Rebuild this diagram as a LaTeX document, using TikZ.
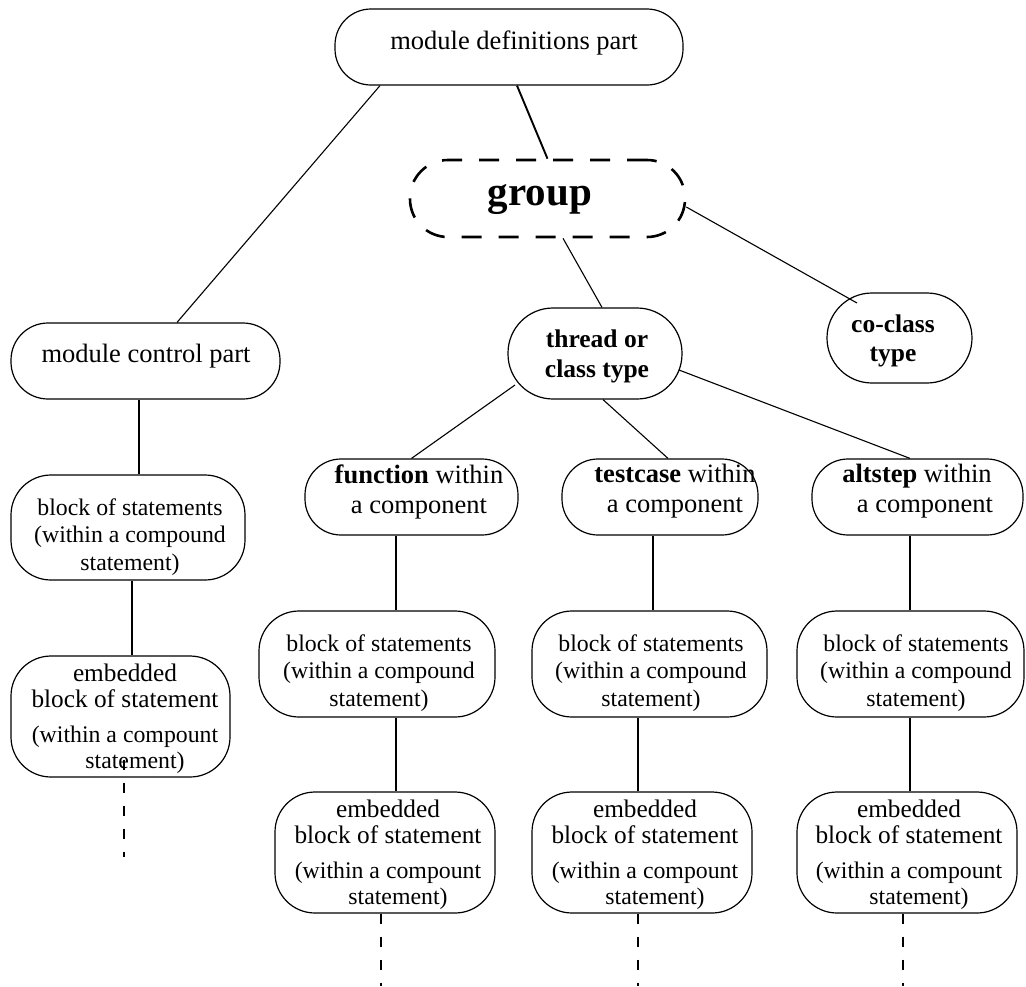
\documentclass[tikz,border=0pt]{standalone}
\usepackage{fontspec}
\setmainfont{Liberation Serif}
\begin{document}
\begin{tikzpicture}[x=1pt,y=-1pt,
  box/.style={draw, line width=1.2pt, inner sep=0pt, rectangle},
  grpbox/.style={draw, line width=2.6pt, inner sep=0pt, rectangle, rounded corners=38pt,
                 dash pattern=on 20pt off 17pt},
  lbl/.style={inner sep=0pt, align=center},
  bigtxt/.style={lbl, font=\fontsize{26.5}{30}\selectfont},
  boldtxt/.style={lbl, font=\fontsize{25.5}{29.5}\selectfont\bfseries},
  blocktxt/.style={lbl, font=\fontsize{23.8}{27.5}\selectfont},
  embtxt/.style={lbl, font=\fontsize{23.8}{26}\selectfont},
  thin/.style={line width=1.1pt},
  thick/.style={line width=1.9pt},
  tail/.style={line width=1.9pt, dash pattern=on 10pt off 13pt}]
\useasboundingbox (0,0) rectangle (1026,986);

% top level
\node[box, rounded corners=36pt, minimum width=348pt, minimum height=76pt] (mdp) at (509,47) {};
\node[bigtxt, anchor=base] (mdpT) at (514,49) {module definitions part};
\node[grpbox, minimum width=275pt, minimum height=77pt] (grp) at (547.5,198.5) {};
\node[lbl, anchor=base, font=\fontsize{41}{45}\selectfont\bfseries] (grpT) at (540,205) {group};

% second level
\node[box, rounded corners=37pt, minimum width=269pt, minimum height=76pt] (mcp) at (145.5,361) {};
\node[bigtxt, anchor=base] (mcpT) at (146,362) {module control part};
\node[box, rounded corners=45pt, minimum width=174pt, minimum height=91pt] (thr) at (595,353.5) {};
\node[boldtxt] (thrT) at (597,356.5) {thread or\\class type};
\node[box, rounded corners=45pt, minimum width=145pt, minimum height=90pt] (cocl) at (899.5,338) {};
\node[boldtxt] (coclT) at (893,341) {co-class\\type};

% components
\node[box, rounded corners=36pt, minimum width=213pt, minimum height=76pt] (fn) at (411.5,497) {};
\node[bigtxt] (fnT) at (419,491.5) {\textbf{function} within\\a component};
\node[box, rounded corners=36pt, minimum width=196pt, minimum height=76pt] (tc) at (660,497) {};
\node[bigtxt] (tcT) at (675,491.5) {\textbf{testcase} within\\a component};
\node[box, rounded corners=36pt, minimum width=211pt, minimum height=76pt] (alt) at (917.5,497) {};
\node[bigtxt] (altT) at (917,491.5) {\textbf{altstep} within\\\hspace*{16pt}a component};

% blocks of statements
\node[box, rounded corners=40pt, minimum width=234pt, minimum height=105pt] (lb) at (128,527.5) {};
\node[blocktxt] (lbT) at (130,537) {block of statements\\(within a compound\\statement)};
\node[box, rounded corners=40pt, minimum width=236pt, minimum height=106pt] (mb) at (377,664) {};
\node[blocktxt] (mbT) at (379,673) {block of statements\\(within a compound\\statement)};
\node[box, rounded corners=40pt, minimum width=235pt, minimum height=106pt] (tb) at (649.5,664) {};
\node[blocktxt] (tbT) at (651,673) {block of statements\\(within a compound\\statement)};
\node[box, rounded corners=40pt, minimum width=227pt, minimum height=106pt] (ab) at (910.5,664) {};
\node[blocktxt] (abT) at (916,673) {block of statements\\(within a compound\\statement)};

% embedded blocks
\newcommand{\embtext}{{\fontsize{25.3}{26}\selectfont embedded}\\
  {\fontsize{25.3}{26}\selectfont block of statement}\\[8.5pt]
  (within a compount\\\hspace*{20pt}statement)}
\node[box, rounded corners=40pt, minimum width=219pt, minimum height=121pt] (le) at (120.5,716.5) {};
\node[embtxt] (leT) at (125,718.5) {\embtext};
\node[box, rounded corners=40pt, minimum width=220pt, minimum height=121pt] (me) at (385,852.5) {};
\node[embtxt] (meT) at (388,854.5) {\embtext};
\node[box, rounded corners=40pt, minimum width=220pt, minimum height=121pt] (te) at (642,852.5) {};
\node[embtxt] (teT) at (645,854.5) {\embtext};
\node[box, rounded corners=40pt, minimum width=220pt, minimum height=121pt] (ae) at (907,852.5) {};
\node[embtxt] (aeT) at (909,854.5) {\embtext};

% open ends of the dashed continuations
\coordinate (leEnd) at (124,857);
\coordinate (meEnd) at (381,986);
\coordinate (teEnd) at (638,986);
\coordinate (aeEnd) at (903,986);

% connectors
\draw[thin] ([xshift=-129pt]mdp.south) -- ([xshift=31.5pt]mcp.north);
\draw[thick] ([xshift=8pt]mdp.south) -- (grp.north);
\draw[thin] ([xshift=15.5pt]grp.south) -- ([xshift=7pt]thr.north);
\draw[thin] ([yshift=-8.5pt]grp.east) -- ([xshift=-42.5pt,yshift=35pt]cocl.center);
\draw[thin] ([xshift=-80pt,yshift=-31.5pt]thr.center) -- (fn.north);
\draw[thin] ([xshift=8pt]thr.south) -- ([xshift=8pt]tc.north);
\draw[thin] ([xshift=84pt,yshift=-16.5pt]thr.center) -- ([xshift=-7.5pt]alt.north);

\draw[thick] ([xshift=-6.5pt]mcp.south) -- ([xshift=11pt]lb.north);
\draw[thick] ([xshift=4pt]lb.south) -- ([xshift=11.5pt]le.north);
\draw[thick] ([xshift=-15.5pt]fn.south) -- ([xshift=19pt]mb.north);
\draw[thick] ([xshift=19pt]mb.south) -- ([xshift=11pt]me.north);
\draw[thick] ([xshift=-7pt]tc.south) -- ([xshift=3.5pt]tb.north);
\draw[thick] ([xshift=-11.5pt]tb.south) -- ([xshift=-4pt]te.north);
\draw[thick] ([xshift=-7.5pt]alt.south) -- ([xshift=-0.5pt]ab.north);
\draw[thick] ([xshift=-0.5pt]ab.south) -- ([xshift=3pt]ae.north);

\draw[tail] ([xshift=3.5pt,yshift=18pt]le.south) -- (leEnd);
\draw[tail] ([xshift=-4pt]me.south) -- (meEnd);
\draw[tail] ([xshift=-4pt]te.south) -- (teEnd);
\draw[tail] ([xshift=-4pt]ae.south) -- (aeEnd);
\end{tikzpicture}
\end{document}
